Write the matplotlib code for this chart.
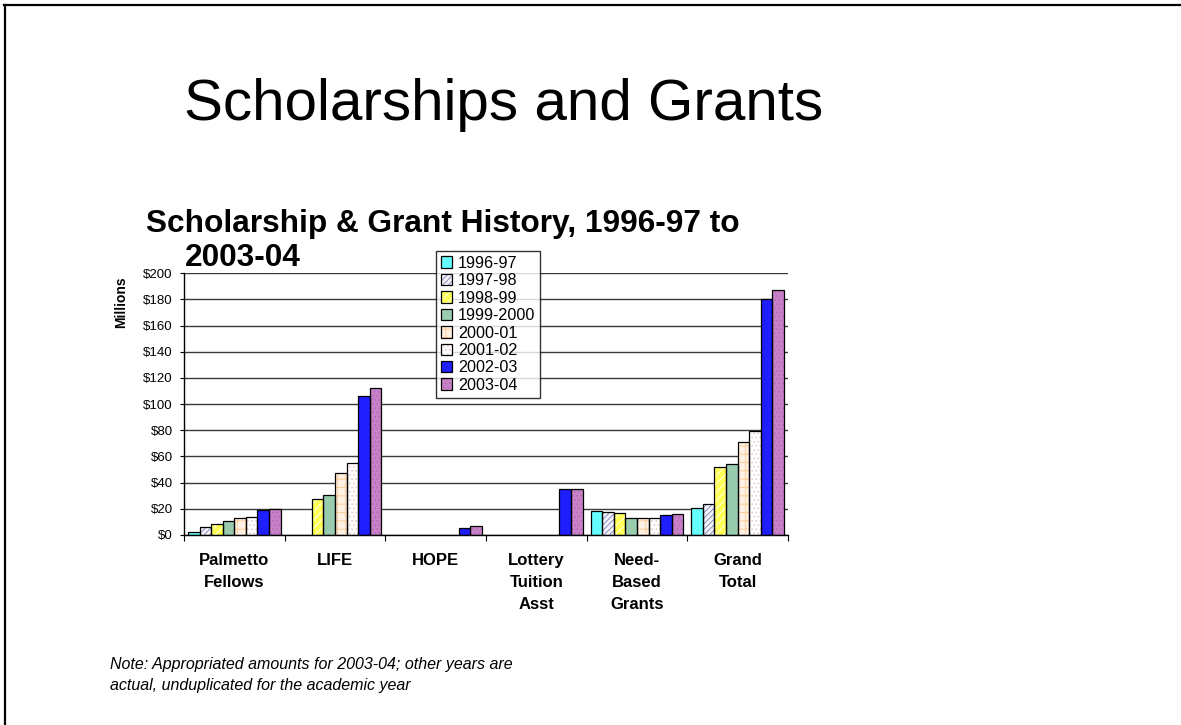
import numpy as np
import matplotlib
matplotlib.use("Agg")
import matplotlib.pyplot as plt
from matplotlib.patches import Patch
from matplotlib.lines import Line2D

plt.rcParams['font.family'] = ['Liberation Sans', 'DejaVu Sans']
plt.rcParams['hatch.linewidth'] = 0.6

# ----------- data (millions of dollars) -------------
categories = ["Palmetto\nFellows", "LIFE", "HOPE", "Lottery\nTuition\nAsst",
              "Need-\nBased\nGrants", "Grand\nTotal"]
years = ["1996-97", "1997-98", "1998-99", "1999-2000",
         "2000-01", "2001-02", "2002-03", "2003-04"]

v_1996 = [2.5, None, None, None, 18.3, 20.9]
v_1997 = [5.9, None, None, None, 17.3, 23.4]
v_1998 = [8.2, 27.3, None, None, 16.5, 51.7]
v_1999 = [10.9, 30.6, None, None, 12.7, 54.2]
v_2000 = [12.7, 47.1, None, None, 12.7, 71.3]
v_2001 = [13.5, 54.8, None, None, 12.7, 79.5]
v_2002 = [19.1, 106.2, 5.1, 34.9, 15.0, 180.1]
v_2003 = [20.1, 112.1, 6.9, 34.9, 15.8, 187.2]
series = [v_1996, v_1997, v_1998, v_1999, v_2000, v_2001, v_2002, v_2003]

ytick_vals = list(range(0, 201, 20))
ytick_labels = ["$" + str(v) for v in ytick_vals]

# face colour, hatch pattern, hatch colour for each year
styles = [
    ("#66FFFF", None, None),
    ("#F4F4FA", "//////", "#7C7CBC"),
    ("#FFFF55", "////", "#FFFFFF"),
    ("#99CCAE", None, None),
    ("#FFF2E4", "++", "#FFC890"),
    ("#FFFFFF", "....", "#E8C4C4"),
    ("#1E1EFF", None, None),
    ("#C880C8", "....", "#B070B0"),
]

# ----------- plotting -------------
fig = plt.figure(figsize=(11.81, 7.25), dpi=100)
ax = fig.add_axes([0.1558, 0.2621, 0.5114, 0.3609])

x = np.arange(len(categories))
w = 0.115
for i, (vals, (face, hatch, hcol)) in enumerate(zip(series, styles)):
    h = np.array([np.nan if v is None else v for v in vals], dtype=float)
    xs = x + (i - 3.5) * w
    ax.bar(xs, h, w, color=face, edgecolor="none", zorder=2)
    if hatch:
        ax.bar(xs, h, w, color="none", edgecolor=hcol, hatch=hatch, linewidth=0, zorder=3)
    ax.bar(xs, h, w, fill=False, edgecolor="black", linewidth=0.9, zorder=4)

ax.set_xlim(-0.5, len(categories) - 0.5)
ax.set_ylim(0, 200)
ax.set_yticks(ytick_vals)
ax.set_yticklabels(ytick_labels, fontsize=9.5)
ax.tick_params(axis="y", length=3, width=0.8, pad=5)
ax.set_xticks(x)
ax.set_xticklabels(categories, fontsize=12, fontweight="bold", linespacing=1.6)
ax.set_xticks(np.arange(-0.5, len(categories)), minor=True)
ax.tick_params(axis="x", which="major", length=0, pad=13)
ax.tick_params(axis="x", which="minor", length=4, width=0.8)
ax.yaxis.grid(True, color="#3a3a3a", linewidth=1.0)
ax.set_axisbelow(True)
for s in ("top", "right"):
    ax.spines[s].set_visible(False)
for s in ("left", "bottom"):
    ax.spines[s].set_linewidth(1.0)

handles = []
for face, hatch, hcol in styles:
    parts = [Patch(facecolor=face, edgecolor="none")]
    if hatch:
        parts.append(Patch(facecolor="none", edgecolor=hcol, hatch=hatch, linewidth=0))
    parts.append(Patch(fill=False, edgecolor="black", linewidth=0.9))
    handles.append(tuple(parts))
leg = ax.legend(handles, years, loc="upper left", bbox_to_anchor=(436 / 1181, 1 - 251 / 725),
                bbox_transform=fig.transFigure, fontsize=11.6, frameon=True, fancybox=False,
                borderaxespad=0, borderpad=0.3, labelspacing=0.15, handlelength=0.72,
                handleheight=0.72, handletextpad=0.35)
leg.get_frame().set_edgecolor("black")
leg.get_frame().set_linewidth(1.0)
leg.set_zorder(10)

# titles and notes
fig.text(0.4263, 0.8345, "Scholarships and Grants", fontsize=42, ha="center", va="baseline")
fig.text(0.1236, 0.6804, "Scholarship & Grant History, 1996-97 to", fontsize=22.8,
         fontweight="bold", ha="left", va="baseline")
fig.text(0.1566, 0.633, "2003-04", fontsize=22.8, fontweight="bold", ha="left", va="baseline")
fig.text(0.1025, 0.5834, "Millions", fontsize=10, fontweight="bold", rotation=90,
         ha="center", va="center")
fig.text(0.0931, 0.0768, "Note: Appropriated amounts for 2003-04; other years are",
         fontsize=11.5, style="italic", ha="left", va="baseline")
fig.text(0.0931, 0.0483, "actual, unduplicated for the academic year",
         fontsize=11.5, style="italic", ha="left", va="baseline")

# slide frame
fig.add_artist(Line2D([4 / 1181, 1], [1 - 5 / 725] * 2, color="black", linewidth=1.6,
                      transform=fig.transFigure))
fig.add_artist(Line2D([5 / 1181] * 2, [0, 1 - 5 / 725], color="black", linewidth=1.6,
                      transform=fig.transFigure))

fig.savefig("out.png", dpi=100)
